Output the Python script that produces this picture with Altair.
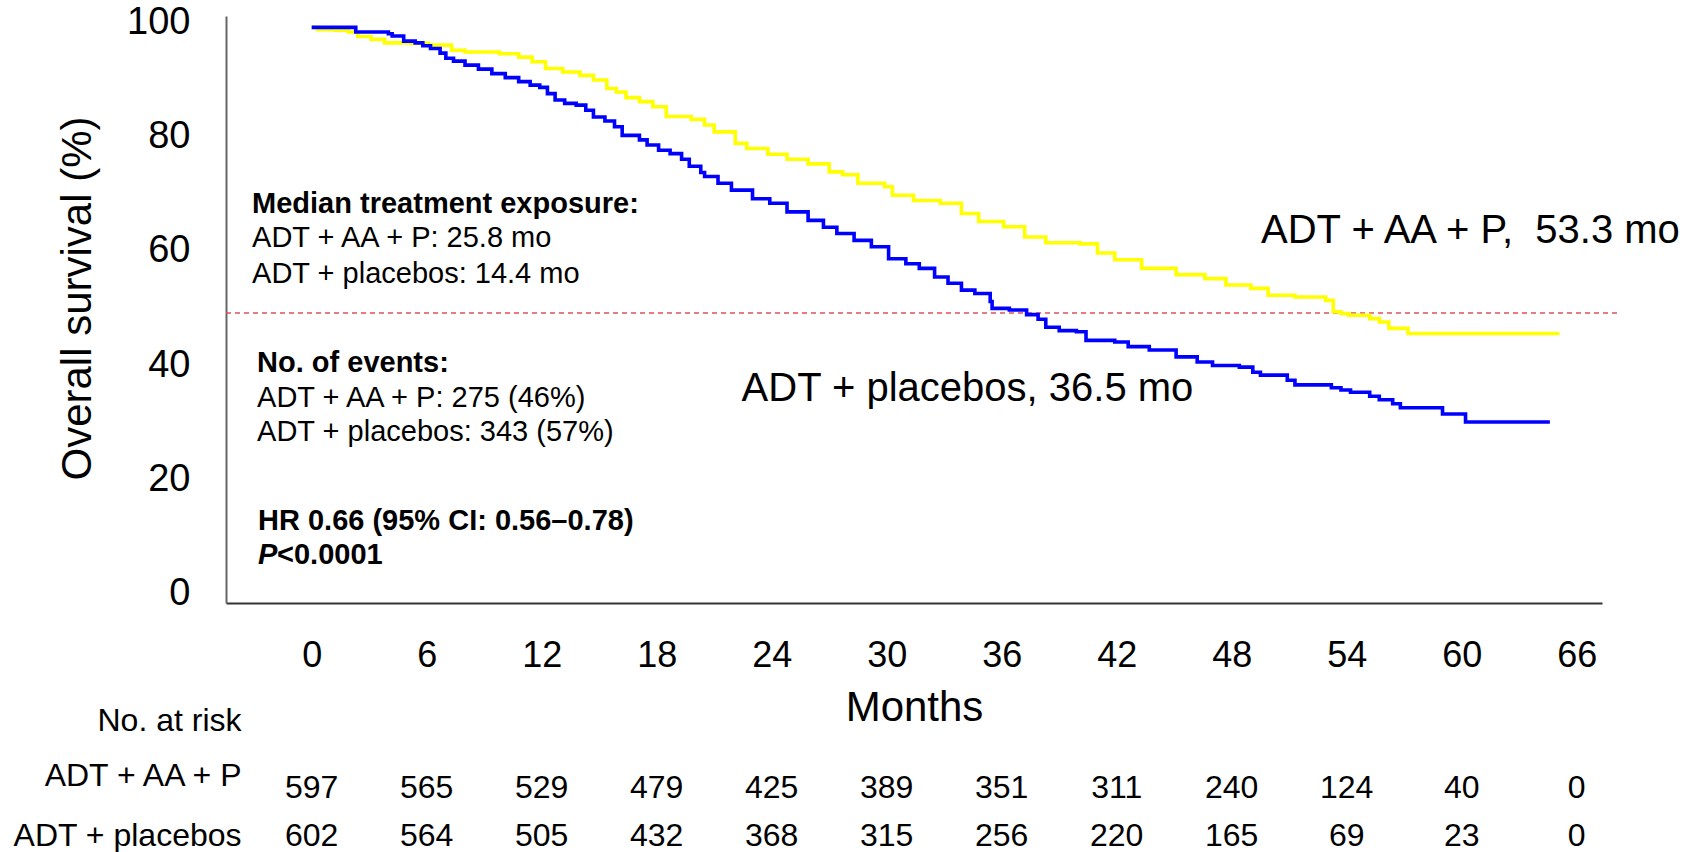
import altair as alt
import pandas as pd

FONT = "Liberation Sans"

# Kaplan-Meier steps: month, overall survival (%)
aa_months = [0, 0.3, 1.2, 1.9, 2.4, 3.1, 3.8, 5.2, 6.1, 7.3, 8.0, 9.8, 10.8, 11.5, 12.2,
             13.1, 14.0, 14.7, 15.4, 15.9, 16.4, 17.1, 17.8, 18.5, 19.8, 20.5, 21.0,
             22.1, 22.7, 23.8, 24.8, 25.9, 27.0, 27.7, 28.5, 29.9, 30.3, 31.4, 32.8,
             33.9, 34.8, 36.1, 37.2, 38.3, 40.1, 41.0, 41.9, 43.3, 45.1, 46.6, 47.7,
             49.0, 49.9, 51.3, 52.9, 53.3, 53.7, 54.1, 55.2, 55.7, 56.2, 57.2, 65.1]
aa_surv = [100, 99.6, 99.5, 99.2, 98.4, 97.9, 97.3, 97.2, 96.9, 96.0, 95.7, 95.4, 94.8, 94.0,
           92.8, 92.2, 91.6, 90.8, 89.3, 88.7, 87.7, 87.0, 86.1, 84.4, 83.9, 82.9, 81.7,
           79.7, 78.8, 77.8, 76.9, 76.1, 74.7, 74.2, 72.7, 72.1, 70.6, 69.7, 69.2,
           67.4, 66.0, 65.1, 63.3, 62.3, 62.1, 60.5, 59.3, 57.8, 56.7, 56.0, 54.9,
           54.3, 53.1, 52.8, 52.2, 50.2, 49.9, 49.6, 49.0, 48.4, 47.3, 46.4, 46.4]

pl_months = [0, 2.3, 4.0, 4.2, 4.8, 5.4, 5.8, 6.2, 6.7, 7.0, 7.4, 8.0, 8.7, 9.4, 10.1,
             10.8, 11.4, 11.9, 12.3, 12.7, 13.2, 13.8, 14.3, 14.7, 15.3, 15.8, 16.2,
             17.1, 17.5, 18.1, 18.7, 19.3, 19.7, 20.3, 20.5, 21.2, 21.9, 23.0, 23.9,
             24.8, 25.9, 26.7, 27.4, 28.3, 29.2, 30.1, 31.0, 31.7, 32.5, 33.2, 33.9,
             34.6, 35.4, 35.5, 36.4, 37.3, 37.9, 38.3, 39.0, 39.9, 40.4, 41.9, 42.6,
             43.7, 45.1, 46.2, 47.0, 48.4, 49.1, 49.5, 50.9, 51.3, 53.2, 53.7, 54.2,
             55.2, 55.7, 56.4, 56.8, 59.0, 60.2, 64.6]
pl_surv = [100, 99.2, 98.9, 98.5, 97.6, 97.3, 96.8, 96.3, 95.5, 94.6, 94.1, 93.4, 92.7, 91.9, 91.2,
           90.5, 89.9, 89.5, 88.4, 87.3, 86.7, 86.4, 85.5, 84.3, 83.6, 82.6, 81.1,
           80.3, 79.4, 78.5, 77.9, 76.9, 75.7, 74.6, 73.9, 72.7, 71.5, 70.0, 69.2,
           67.7, 66.2, 65.0, 63.9, 62.7, 61.6, 59.5, 58.6, 57.8, 56.3, 55.2, 54.0,
           53.4, 52.0, 50.8, 50.5, 49.7, 48.9, 47.5, 46.9, 46.7, 45.2, 44.9, 44.1,
           43.5, 42.3, 41.4, 40.8, 40.5, 39.6, 39.1, 38.2, 37.4, 36.9, 36.5, 36.1,
           35.4, 34.8, 34.1, 33.4, 32.3, 30.9, 30.9]

tick_months = list(range(0, 67, 6))
survival_ticks = [0, 20, 40, 60, 80, 100]

risk_aa = [597, 565, 529, 479, 425, 389, 351, 311, 240, 124, 40, 0]
risk_pl = [602, 564, 505, 432, 368, 315, 256, 220, 165, 69, 23, 0]

arm_names = ["ADT + AA + P", "ADT + placebos"]
arm_colors = ["#ffff00", "#0000ff"]
median_labels = ["ADT + AA + P,\u00a0 53.3 mo", "ADT + placebos, 36.5 mo"]

exposure_lines = ["Median treatment exposure:", "ADT + AA + P: 25.8 mo", "ADT + placebos: 14.4 mo"]
event_lines = ["No. of events:", "ADT + AA + P: 275 (46%)", "ADT + placebos: 343 (57%)"]
hr_line = "HR 0.66 (95% CI: 0.56\u20130.78)"
p_value = "<0.0001"

median_level = 50

# ---- shared scales / axes ----
x_scale = alt.Scale(domain=[-4.47, 67.32], nice=False, zero=False)
y_scale = alt.Scale(domain=[-0.8, 102], nice=False, zero=False)

x_axis = alt.Axis(values=tick_months, grid=False, ticks=False, domainColor="#333333",
                  domainWidth=2, labelFont=FONT, labelFontSize=36, labelColor="#000000",
                  labelBaseline="alphabetic", labelPadding=63, labelFlush=False,
                  labelOverlap=False, title="Months", titleFont=FONT, titleFontSize=42,
                  titleFontWeight="normal", titleColor="#000000", titleX=688, titleY=117,
                  titleAlign="center", titleBaseline="alphabetic")
y_axis = alt.Axis(values=survival_ticks, grid=False, ticks=False, domainColor="#666666",
                  domainWidth=2, labelFont=FONT, labelFontSize=38, labelColor="#000000",
                  labelPadding=36, labelOffset=-5, labelFlush=False, labelOverlap=False,
                  title="Overall survival (%)", titleFont=FONT, titleFontSize=42,
                  titleFontWeight="normal", titleColor="#000000", titleX=-136, titleY=282,
                  titleAlign="center", titleBaseline="alphabetic", titleAngle=270)

X = alt.X("month:Q", scale=x_scale, axis=x_axis)
Y = alt.Y("surv:Q", scale=y_scale, axis=y_axis)


def text_layer(df, **kw):
    style = dict(font=FONT, color="#000000", baseline="alphabetic")
    style.update(kw)
    return alt.Chart(df).mark_text(**style).encode(x=X, y=Y, text="text:N")


# ---- survival curves ----
aa_df = pd.DataFrame({"month": aa_months, "surv": aa_surv})
pl_df = pd.DataFrame({"month": pl_months, "surv": pl_surv})
aa_line = alt.Chart(aa_df).mark_line(interpolate="step-after", strokeWidth=3.6,
                                     color=arm_colors[0]).encode(x=X, y=Y)
pl_line = alt.Chart(pl_df).mark_line(interpolate="step-after", strokeWidth=3.6,
                                     color=arm_colors[1]).encode(x=X, y=Y)

# ---- median reference line ----
rule_df = pd.DataFrame({"month": [-4.47], "month_end": [68.3], "surv": [median_level]})
median_rule = alt.Chart(rule_df).mark_rule(color="#e0505a", strokeDash=[5, 4],
                                           strokeWidth=1.5).encode(x=X, x2="month_end:Q", y=Y)

# ---- annotation text ----
exposure_head = text_layer(pd.DataFrame({"month": [-3.11], "surv": [67.5],
                                         "text": exposure_lines[:1]}),
                           align="left", fontSize=29, fontWeight="bold")
exposure_body = text_layer(pd.DataFrame({"month": [-3.11, -3.11], "surv": [61.5, 55.3],
                                         "text": exposure_lines[1:]}),
                           align="left", fontSize=29)
events_head = text_layer(pd.DataFrame({"month": [-2.85], "surv": [39.6],
                                       "text": event_lines[:1]}),
                         align="left", fontSize=29, fontWeight="bold")
events_body = text_layer(pd.DataFrame({"month": [-2.85, -2.85], "surv": [33.6, 27.5],
                                       "text": event_lines[1:]}),
                         align="left", fontSize=29)
hr_text = text_layer(pd.DataFrame({"month": [-2.80], "surv": [12.0], "text": [hr_line]}),
                     align="left", fontSize=29, fontWeight="bold")
p_letter = text_layer(pd.DataFrame({"month": [-2.80], "surv": [6.0], "text": ["P"]}),
                      align="left", fontSize=29, fontWeight="bold", fontStyle="italic")
p_text = text_layer(pd.DataFrame({"month": [-2.80], "surv": [6.0], "text": [p_value]}),
                    align="left", fontSize=29, fontWeight="bold", dx=19)

median_text = text_layer(pd.DataFrame({"month": [49.53, 22.43], "surv": [62.2, 34.6],
                                       "text": median_labels}),
                         align="left", fontSize=40)

# ---- number at risk table ----
risk_head = text_layer(pd.DataFrame({"month": [-3.66], "surv": [-23.3],
                                     "text": ["No. at risk"]}),
                       align="right", fontSize=32)
risk_names = text_layer(pd.DataFrame({"month": [-3.66, -3.66], "surv": [-32.9, -43.3],
                                      "text": arm_names}),
                        align="right", fontSize=32)
risk_rows = pd.DataFrame({
    "month": tick_months + tick_months,
    "surv": [-34.9] * len(tick_months) + [-43.3] * len(tick_months),
    "text": [str(v) for v in risk_aa] + [str(v) for v in risk_pl],
})
risk_numbers = text_layer(risk_rows, align="center", fontSize=32)

chart = alt.layer(
    median_rule, aa_line, pl_line,
    exposure_head, exposure_body, events_head, events_body, hr_text, p_letter, p_text,
    median_text, risk_head, risk_names, risk_numbers,
).properties(
    width=1376, height=587,
    autosize=alt.AutoSizeParams(type="none"),
    padding={"left": 226, "top": 16, "right": 88, "bottom": 249},
    background="#ffffff",
).configure_view(stroke=None)

chart.save("out.html", embed_options={"renderer": "svg", "actions": False})
